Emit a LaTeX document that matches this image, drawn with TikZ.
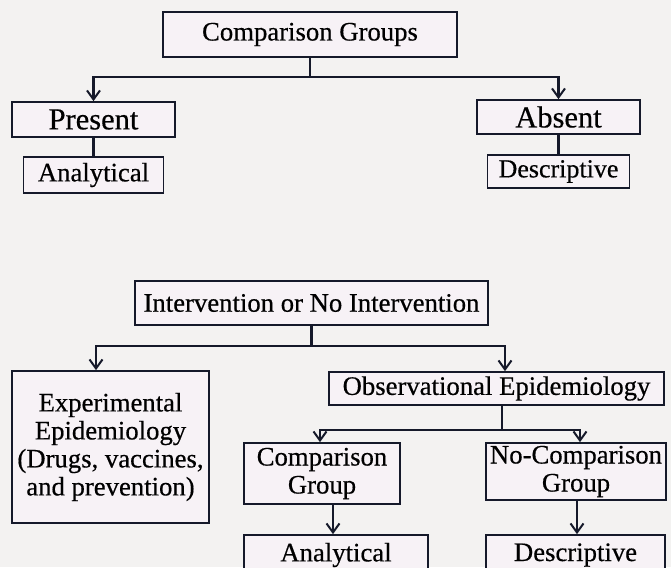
\documentclass[tikz,border=0pt]{standalone}
\usepackage{fontspec}
\setmainfont{Liberation Serif}[FakeBold=0.5]
\usetikzlibrary{arrows.meta}
\definecolor{ink}{HTML}{15192A}
\definecolor{paper}{HTML}{F3F2F1}
\definecolor{boxfill}{HTML}{F7F2F6}
\begin{document}
\begin{tikzpicture}[x=1pt,y=-1pt,
  box/.style={draw=ink,line width=1.7pt,fill=boxfill,inner sep=0pt,align=center,
    font=\fontsize{26.7}{28}\selectfont},
  bigbox/.style={box,font=\fontsize{30.5}{31}\selectfont},
  link/.style={draw=ink,line width=2.4pt},
  arr/.style={link,-{Straight Barb[length=9pt,width=13pt,line width=2pt]}},
]
\clip (0,0) rectangle (671,567);
\fill[paper] (0,0) rectangle (671,567);

% ---- upper tree: comparison groups ----
\node[box,minimum width=294pt,minimum height=45pt] (cg) at (310,34.5) {Comparison Groups};
\node[bigbox,minimum width=163pt,minimum height=35pt] (present) at (93.5,119.5) {Present};
\node[box,minimum width=140pt,minimum height=36pt] (anaT) at (93.5,175) {Analytical};
\node[bigbox,minimum width=163pt,minimum height=34pt] (absent) at (558.5,117) {Absent};
\node[box,font=\fontsize{26}{28}\selectfont,minimum width=142pt,minimum height=33pt] (descT) at (558.5,171.5) {Descriptive};

\coordinate (j1) at (310,77);
\draw[link] (cg.south) -- (j1);
\draw[arr] (j1) -| (present.north);
\draw[arr] (j1) -| (absent.north);
\draw[link] (present.south) -- (anaT.north);
\draw[link] (absent.south) -- (descT.north);

% ---- lower tree: intervention ----
\node[box,minimum width=353pt,minimum height=44pt] (inter) at (311.5,303) {Intervention or No Intervention};
\node[box,minimum width=197pt,minimum height=152pt] (exper) at (110.5,447)
  {Experimental\\Epidemiology\\(Drugs, vaccines,\\and prevention)};
\node[box,minimum width=335pt,minimum height=33pt] (obs) at (496.5,388.5) {Observational Epidemiology};
\node[box,minimum width=156pt,minimum height=61pt] (cgrp) at (322,473.5) {Comparison\\Group};
\node[box,minimum width=180pt,minimum height=57pt] (ncgrp) at (576,471.5) {No-Comparison\\Group};
\node[box,minimum width=184pt,minimum height=40pt] (anaB) at (336,555) {Analytical};
\node[box,minimum width=179pt,minimum height=40pt] (descB) at (575.5,555) {Descriptive};

\coordinate (j2) at (311.5,346);
\coordinate (xe) at (96,0);
\coordinate (xo) at (505,0);
\draw[link] (inter.south) -- (j2);
\draw[arr] (j2) -| (exper.north -| xe);
\draw[arr] (j2) -| (obs.north -| xo);

\coordinate (j3) at (502,430);
\coordinate (xc) at (320,0);
\coordinate (xn) at (580,0);
\draw[link] (obs.south -| j3) -- (j3);
\draw[arr] (j3) -| (cgrp.north -| xc);
\draw[arr] (j3) -| (ncgrp.north -| xn);

\coordinate (xa) at (333,0);
\coordinate (xd) at (577,0);
\draw[arr] (cgrp.south -| xa) -- (anaB.north -| xa);
\draw[arr] (ncgrp.south -| xd) -- (descB.north -| xd);
\end{tikzpicture}
\end{document}
